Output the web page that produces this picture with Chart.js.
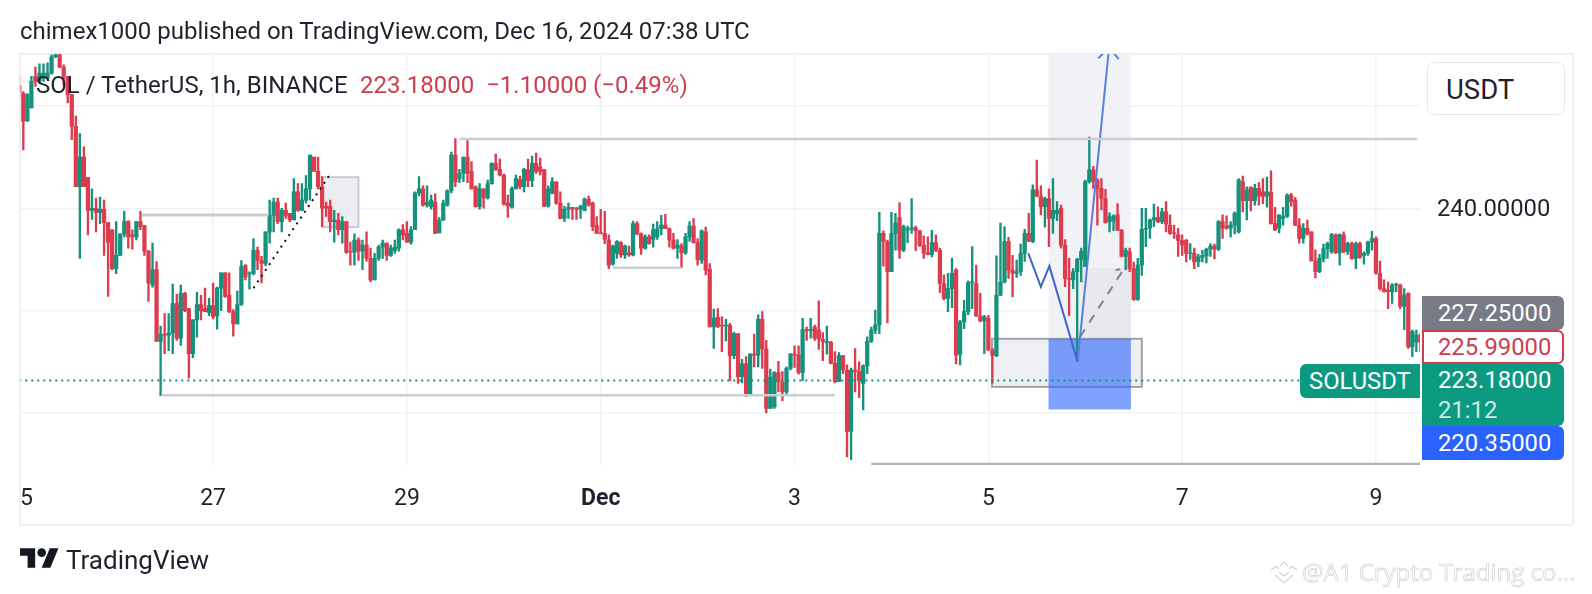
<!DOCTYPE html>
<html>
<head>
<meta charset="utf-8">
<title>SOLUSDT</title>
<script src="https://cdn.jsdelivr.net/npm/chart.js@4"></script>
<style>
  html, body { margin: 0; padding: 0; background: #fff; }
  body { width: 1592px; height: 594px; position: relative; overflow: hidden; font-family: Roboto, sans-serif; color: #1e222d; }
  canvas { position: absolute; left: 0; top: 0; }
  .t { position: absolute; white-space: pre; line-height: 1; }
  .frame { position: absolute; left: 19px; top: 53px; width: 1551px; height: 469px; border: 2px solid #eff0f3; }
  .tag { position: absolute; left: 1422px; width: 142px; box-sizing: border-box; padding-left: 16px; font-size: 23.8px; color: #fff; border-radius: 0 6px 6px 0; }
</style>
</head>
<body>
<div class="frame"></div>
<canvas id="solChart" width="1592" height="594"></canvas>

<div class="t" style="left:20px;top:19px;font-size:24px">chimex1000 published on TradingView.com, Dec 16, 2024 07:38 UTC</div>
<div class="t" style="left:36px;top:73px;font-size:24px">SOL / TetherUS, 1h, BINANCE</div>
<div class="t" style="left:360px;top:73px;font-size:24px;color:#cc3e4e">223.18000  −1.10000 (−0.49%)</div>

<div style="position:absolute;left:1427px;top:62px;width:136px;height:51px;border:1px solid #e6e8ee;border-radius:7px;background:#fff"></div>
<div class="t" style="left:1446px;top:76px;font-size:27.5px">USDT</div>

<div class="tag" style="top:296px;height:34px;line-height:34px;background:#787b86">227.25000</div>
<div class="tag" style="top:330px;height:34px;line-height:30px;background:#fff;border:2px solid #cc3e4e;padding-left:14px;color:#cc3e4e">225.99000</div>
<div class="tag" style="top:364px;height:62px;line-height:30px;padding-top:1px;background:#0b9a80">223.18000<br><span style="opacity:.8">21:12</span></div>
<div class="tag" style="top:426px;height:34px;line-height:34px;background:#2962ff">220.35000</div>
<div class="t" style="left:1300px;top:364px;width:120px;height:34px;line-height:34px;box-sizing:border-box;padding-left:9px;font-size:23.8px;color:#fff;background:#0b9a80;border-radius:6px 0 0 6px">SOLUSDT</div>

<svg style="position:absolute;left:20px;top:548px" width="39" height="20" viewBox="0 4 36 18"><path fill="#131722" d="M14 22H7V11H0V4h14v18zM28 22h-8l7.5-18h8L28 22z"/><circle fill="#131722" cx="20" cy="8" r="4"/></svg>
<div class="t" style="left:66px;top:547px;font-size:26px">TradingView</div>

<svg style="position:absolute;left:1270px;top:561px" width="29" height="24" viewBox="0 0 29 24" fill="none" stroke="#d4d4d4" stroke-width="1.2"><path d="M1 9l5-4 3 3M10 5l4-4 4 4M19 8l3-3 5 4M9 11l5 4 5-4M5 14l9 8 9-8"/></svg>
<div class="t" style="left:1302px;top:560px;font-size:24px;font-family:'Open Sans',sans-serif;color:#fff;-webkit-text-stroke:0.6px #c9c9c9">@A1 Crypto Trading co...</div>

<script>
// hourly candles, index 0 = 25 Nov 00:00
const opens = [
  252,251.2,248.5,249.8,252.9,252.4,252.7,252.7,253.2,254.8,
  255,253.8,252.9,251.1,248,242.1,245,243,239.8,240,
  239.6,239.9,238.6,237.9,234.1,235.4,237.5,238.7,237.4,237.2,
  238.7,238.3,235.8,232.5,234,227,227.7,227.6,227.8,230.7,
  227.3,231.7,230.2,225.8,229.1,230.6,230.2,229.8,230.5,229.5,
  232.2,233.7,231.5,229.9,228.7,230.6,234.4,233.6,233.6,235.9,
  234.9,234.6,237.7,239.3,240.6,238.7,239.8,239.5,238.85,241.6,
  239.8,240.8,241.9,245,243.6,242.1,240.2,240.2,238.7,238.85,
  237.9,238.7,235.8,235.7,236.9,235.8,236.4,235.1,233,235.1,
  236.2,236.6,235.4,235.85,236.1,237.9,237.55,236.7,237.9,241.5,
  241.9,240.3,240.15,240.6,237.6,238.85,240.3,241.7,245.2,242.9,
  243.4,245,243.6,242.1,240.15,241.9,241,242.4,244.4,243.8,
  243.25,240.5,240.1,241.9,242.8,242.1,243.75,242.7,244.4,244.05,
  243.75,240.2,241.45,242.55,240.5,239,239.9,240.1,240,239.9,
  239.8,240.9,240.5,238.3,237.6,237.55,236.9,234.55,235.6,236.65,
  235.45,235.65,235.45,238.5,237.5,236.1,237.2,236.95,237.2,238,
  238.35,238,236.9,236.1,236.3,235.65,237.2,238.25,236.65,234.95,
  237.7,234.05,228.4,229.35,228.6,228.5,228.6,225.6,227.75,223.55,
  224.8,221.9,225.75,225.65,229.15,226.25,220.45,220.6,223.95,223,
  222.05,224.35,225.75,225.65,223.95,228.15,228.05,228.4,228.1,227.2,
  226.9,226.9,224.85,223.05,225.6,224.2,218.2,224.2,224.05,222.9,
  224.6,227,228.1,228.6,237.55,236.75,233.8,237.55,239.1,235.9,
  237.85,237.95,238.1,237.8,236.4,235.65,235.5,236.65,235.9,232.65,
  231.2,232.15,233.95,225.75,228.9,229.9,232.75,232.65,229.5,229,
  229.25,226.15,225.6,231.5,232.8,236.75,233.95,233.65,233.8,235.6,
  237.55,236.75,241.8,241.2,240.15,240.95,239,239.5,240,236.4,
  233.15,233,233.8,235,234.3,242.6,243.75,242.75,241.95,240.95,
  238.7,238.75,239.35,237.85,235.3,235.75,234.1,231.1,234.45,237.95,
  238.05,238.85,239.1,238.7,239.65,238.35,237.6,237.4,236.85,236.9,
  235.6,235.6,234.75,235.2,235.35,236,236.3,236,238.7,238.25,
  238.05,238.35,237.7,242.6,240.75,242.05,240.75,241.95,241.6,241.2,
  241.55,238.5,238.05,239,239.2,241.3,240.8,238.35,237.05,238.05,
  237.7,234.85,233.8,235.1,236.05,235.75,237.4,235.65,237.4,235.75,
  236.55,235.1,236.55,235.4,235.6,236.7,237.05,233.65,232.15,232,
  231.85,232.5,232.5,230.4,231.7,226.45,226.95,227.6
];
const closes = [
  251.3,248.5,251.1,252.4,252.4,253.2,253.2,253.2,254.8,255,
  253.8,252.9,251.1,248,242.1,245,242.1,239.8,240,239.6,
  239.9,238.6,236.7,234.1,235.4,237.5,238.7,237.2,237.2,238.7,
  238.2,235.8,232.7,234,227,227.7,227.6,227.8,230.7,227.3,
  231.7,230,225.8,229.1,230.6,230,229.9,230.5,229.4,232.2,
  233.7,231.4,229.9,228.7,230.6,234.3,233.3,233.7,235.9,234.9,
  234.6,237.7,239.3,240.6,238.7,239.8,239.3,238.85,241.6,239.8,
  240.8,241.9,245.2,243.6,242.1,240,240,238.7,238.85,237.9,
  238.7,235.7,235.7,236.9,235.8,236.4,235.1,233,235.1,236.2,
  236.6,235.4,236.1,236.2,237.9,237.4,236.7,237.9,241.5,241.9,
  240.3,240.6,240.8,237.55,238.85,240.5,241.7,245.2,242.6,243.4,
  245,243.4,241.9,240.15,241.9,241,242.4,244.4,243.8,243.25,
  240.4,240.2,241.9,242.9,242.1,243.8,242.7,244.4,243.6,243.6,
  240.2,241.9,242.6,240.5,239,239.9,240.1,239.9,239.9,240.2,
  240.9,240.3,238.2,237.55,237.55,236.95,234.45,236.3,236.75,235.45,
  236.3,235.45,238.5,237.5,236.1,237.2,236.55,237.9,238,238.35,
  238,236.9,236.1,236.4,235.65,237.2,238.25,236.65,234.95,237.8,
  233.95,228.4,229.25,228.4,228.5,228.6,225.6,227.75,223.55,224.8,
  221.85,225.75,225.65,229.15,226.25,220.45,223.5,223.95,223.05,222.05,
  224.35,225.75,225.65,223.95,228.15,228.05,228.15,227.3,227.2,227,
  227,224.85,223.05,225.6,224.2,218.2,224.2,224.05,223.15,224.6,
  227,228.1,228.6,237.55,236.75,233.8,237.55,238.55,235.9,238.2,
  238,238.1,237.8,236.4,235.6,235.5,236.65,235.9,232.65,231.2,
  232.15,233.65,225.65,228.9,229.9,232.75,232.85,229.5,229,229.4,
  226.15,225.65,231.5,232.8,236.75,233.95,233.65,233.8,235.6,237.55,
  236.75,241.8,241.2,240.15,240.95,239,239.8,239.8,236.4,233.15,
  233.05,233.8,235,235.8,242.6,243.75,242.6,241.95,240.95,238.6,
  239.2,239.25,237.85,235.3,235.9,234.1,231.1,234.45,237.95,238.05,
  238.85,239.1,238.7,239.65,238.45,237.55,237.55,236.85,236.4,235.6,
  235.65,234.75,235.25,235.4,236,236.3,236,238.7,238.05,238.05,
  238.35,239.5,242.75,240.75,241.8,240.75,241.95,241.2,241.15,241.6,
  238.5,237.85,239.35,239.2,241.3,240.65,238.35,237.05,238.05,237.5,
  234.85,233.8,235.1,236.05,236.55,237.4,235.65,237.4,235.75,236.55,
  235.1,236.55,235.2,235.6,236.7,237.05,233.65,232.15,231.85,231.85,
  232.5,232.6,230.4,231.5,226.45,227.95,227.6,226.9
];
const highs = [
  252.9,251.4,251.2,252.9,253.8,254.1,254.1,254.2,255,255.1,
  255.1,254,252.9,251.1,249,247.3,246,243,241.9,241,
  241.1,240.8,238.6,237.9,238.7,237.5,239.7,238.8,237.9,238.7,
  239.7,238.3,235.9,236.6,234.8,228.5,229.7,229.7,232.6,231.6,
  232.5,231.8,230.2,229.1,231.8,231.5,232.2,231.2,232.7,232.3,
  233.7,233.7,233.7,230.1,231.9,234.9,234.5,233.8,237.05,236.2,
  235.3,237.7,240.8,241,241,240,240.5,239.5,242.9,242.4,
  242.4,243.2,245.2,245,245,243.1,240.6,240.8,239.8,239.5,
  239.2,238.7,236.7,237.5,237.1,236.9,237.7,236.1,235.6,236.4,
  236.9,236.6,236.4,236.9,238,238.4,238.7,238.2,241.6,243.1,
  242.2,242.2,241.3,241.4,239.1,240.8,241.8,245.5,246.8,243.8,
  245,246.6,244.55,242.2,242.4,241.9,242.75,244.45,245.3,244.8,
  243.35,241.3,242.1,243.25,243.15,243.9,244.8,245.1,245.4,244.9,
  243.8,242.2,243,242.6,241.6,240.2,240.5,240.1,240.1,240.3,
  241,241.2,240.6,239.2,239.9,239.7,237.4,236.4,236.85,236.75,
  236.4,236.3,238.75,238.7,237.6,237.4,237.4,238.45,238.7,239.3,
  239.4,238.1,237.55,236.95,236.55,237.55,238.7,239,237.05,237.9,
  238.15,234.6,230.15,230.2,229.4,229.15,228.75,227.9,227.75,225.25,
  225.5,225.8,227.7,229.6,229.9,227.1,224.3,224.05,225.05,224.05,
  224.5,225.8,226.55,226.55,229.25,228.4,229.25,228.6,230.95,227.85,
  228.5,227,226,225.9,225.6,224.7,224.4,226.3,225,224.7,
  227.45,228.4,230.05,239.6,237.8,236.9,239.6,239.5,240.55,238.35,
  238.25,240.95,238.25,237.85,237.3,237.2,237.85,237.4,236.1,233.5,
  233.65,235.1,234.1,229.05,231,232.9,236.25,234.45,231.7,229.55,
  229.55,226.3,235.35,238.55,238.2,237.15,235.4,234.95,236.5,237.95,
  239.5,242.3,244.7,242.2,241.1,241.9,242.9,240.65,240.3,236.95,
  235.1,234.1,235.1,236.1,242.75,246.95,244.1,242.9,242.9,241.85,
  239.55,239.35,240.45,237.95,236.1,236.1,234.75,235.1,240,240,
  238.95,240.4,240.15,240,240.65,239.35,238.35,238.05,237.4,236.95,
  236.55,236.1,235.5,235.9,236.1,236.55,236.5,238.8,239.35,239.25,
  238.7,239.65,242.9,243.15,242.1,242.1,242.35,242.5,242.9,243.05,
  243.65,240.1,239.35,240.1,241.4,241.45,241.05,239,238.5,238.85,
  237.7,235.95,235.5,236.5,236.7,237.55,237.5,237.5,237.7,236.7,
  236.7,236.7,236.7,235.75,236.8,237.75,237.2,234.85,233,232.8,
  232.65,232.7,232.6,232.15,231.75,228.1,228.1,227.75
];
const lows = [
  250.8,245.7,248.5,249.8,251.9,252.2,252.4,252.7,253.1,254.7,
  253.7,252,250.3,246.7,242.1,235.1,242.1,237.4,238.9,237.7,
  238.5,235.4,231.4,234,233.6,235.4,237.2,236.1,236,236.9,
  237.9,235.4,230.9,232.3,227,221.7,225.8,226.1,225.8,227.1,
  226.6,229.9,223.4,225.4,227.4,229.1,229.9,229.5,229.2,228.2,
  230,231.3,229.8,227.5,228.7,230.5,233,232.1,233.5,234,
  232.7,234.4,236.6,237.7,238.5,237.7,239,238.7,238.85,239.7,
  239.8,240.5,240.8,243.6,241.9,238.2,239.2,237.7,236.7,237.4,
  236.6,235.6,234.45,234.45,234.9,234,234.8,232.8,233,234.9,
  235.1,234.9,235.3,235.6,235.8,236.9,236.7,236.5,237.9,241.2,
  240.2,240.1,239.9,237.55,237.6,238.8,240.2,241.5,242.1,242.5,
  242.6,242.5,241.9,240.1,239.9,240,240.9,242.35,243.7,243.15,
  240.3,239.1,240,241.9,241.9,241.6,242.1,242.1,243.4,243.25,
  240.15,240.1,241.4,240.4,238.95,238.7,239,238.9,238.9,239,
  239.75,240.2,237.8,237.55,237.5,236.55,234.1,234.45,235.1,235.2,
  235.1,235.3,235.35,237.4,235.5,236,236.5,236.2,236.95,237.4,
  238,236.2,236,235.1,234.2,235.5,236.75,236.6,234.45,234.6,
  233.5,228.4,226.3,228.35,226,227.05,223.15,225.3,222.9,222.95,
  221.6,221.75,224.5,224.5,224.35,220,220.45,220.45,222.05,221.2,
  221.75,224.2,224.45,223.8,223.15,227.1,227.3,227.1,226.2,225.1,
  225.75,224.8,222.95,223.05,223.85,215.7,215.45,222.05,221.5,220.3,
  223.85,226.9,227.75,227.75,234.35,228.8,233.8,235.9,235.1,235.75,
  236.65,237.55,235.85,236.25,235.1,235.45,235.25,235.75,231.75,231.05,
  229.9,230.3,224.8,224.7,228.25,229.6,230.2,229.4,228.9,225.8,
  226.1,222.9,225.5,231.45,232.7,233.15,231.35,233.25,233.45,234.8,
  236.75,236.65,241.1,239.35,238.15,236.25,237.55,238.8,236.1,232.35,
  229.5,232.15,225.5,232.8,234.3,242.45,241.95,238.35,239.85,238.55,
  237.7,237.8,237.8,235.25,234,233.8,231,231,233.45,236.25,
  237.05,238.2,238.6,238.5,237.7,237.45,237.05,235.3,235.4,234.75,
  235,234.1,234.3,234.75,234.65,235.3,235.05,235.85,237.05,237.95,
  237.2,237.5,237.6,239.65,238.85,239.75,240.3,240.3,240.45,240.1,
  238.45,237.8,237.6,238.35,239.1,240.2,238.3,236.6,236.6,237.4,
  234.85,233.2,233.7,234.75,235.1,235.6,235.6,234.45,235.65,235.5,
  235,234.1,235.1,234.55,235.4,235.9,233.55,232,231.8,230.2,
  230.7,231.85,230.2,228.15,226.3,225.5,226,226
];

// time axis: hour index and text
const dayHours = [1.8, 48, 96, 144, 192, 240, 288, 336];
const dayLabels = ["5", "27", "29", "Dec", "3", "5", "7", "9"];
const priceTicks = [220, 230, 240, 250];
const lastPrice = 223.18;

// drawings as [hour, price]
const levelLeft = [[30.4, 239.33], [61.7, 239.33]];
const levelTop = [[109, 246.77], [346.2, 246.77]];
const levelLow = [[35.2, 221.74], [202, 221.74]];
const levelMid = [[147, 234.18], [164, 234.18]];
const levelBottom = [[211, 215], [347, 215]];
const dottedTrend = [[58, 232.2], [77, 243.33]];
const zigzag = [[249.9, 235.59], [253, 232.33], [255.1, 234.35], [262.1, 225]];
const bigArrow = [[262.1, 225], [269.9, 255.7]];
const arrowHead = [[267.2, 254.65], [269.9, 255.7], [272.3, 254.56]];
const dashedPath = [[262.7, 227.44], [273.6, 234.1], [271.5, 233.96]];
const priceLine = [[0, lastPrice], [347, lastPrice]];

// boxes as [hour from, hour to, price top, price bottom]
const noteBox = [75, 84, 243.04, 238.16];
const rangeBox = [240.9, 278, 227.25, 222.55];
const profitBox = [254.9, 275.3, 255.1, 227.25];
const stopBox = [254.9, 275.3, 227.25, 220.35];
const innerBox = [263, 275.3, 234.17, 227.25];

const UP = "#15917c";
const DOWN = "#dd3c4e";
const candleColors = closes.map((c, i) => (c >= opens[i] ? UP : DOWN));
const toPoints = list => list.map(p => ({ x: p[0], y: p[1] }));

function lineSet(list, color, width, dash) {
  return {
    type: "line",
    data: toPoints(list),
    borderColor: color,
    borderWidth: width,
    borderDash: dash || [],
    pointRadius: 0,
    tension: 0,
    order: 0
  };
}

// shaded boxes sit under the candles
const boxPlugin = {
  id: "boxes",
  beforeDatasetsDraw(chart) {
    const { ctx, scales: { x, y }, chartArea } = chart;
    function box(b, fill, stroke, width) {
      const left = x.getPixelForValue(b[0]);
      const right = x.getPixelForValue(b[1]);
      const top = y.getPixelForValue(b[2]);
      const bottom = y.getPixelForValue(b[3]);
      ctx.fillStyle = fill;
      ctx.fillRect(left, top, right - left, bottom - top);
      if (stroke) {
        ctx.strokeStyle = stroke;
        ctx.lineWidth = width;
        ctx.strokeRect(left, top, right - left, bottom - top);
      }
    }
    ctx.save();
    ctx.beginPath();
    ctx.rect(chartArea.left, chartArea.top, chartArea.width, chartArea.height);
    ctx.clip();
    box(noteBox, "#ecedf0", "#c9ccd3", 2);
    box(profitBox, "#f0f2f6");
    box(innerBox, "#e7e9ee");
    box(rangeBox, "rgba(205,209,220,0.35)", "#a0a2a9", 2);
    box(stopBox, "rgba(41,98,255,0.6)");
    ctx.restore();
  }
};

new Chart(document.getElementById("solChart"), {
  data: {
    datasets: [
      lineSet(priceLine, "#15917c", 2, [2, 4]),
      lineSet(levelLeft, "#cbcdd3", 3),
      lineSet(levelTop, "#cbcdd3", 2.5),
      lineSet(levelLow, "#cbcdd3", 2.5),
      lineSet(levelMid, "#cbcdd3", 2.5),
      lineSet(levelBottom, "#b0b2b8", 3),
      lineSet(dottedTrend, "#111", 2, [2, 5]),
      lineSet(zigzag, "#3f63c9", 2),
      lineSet(bigArrow, "#5b7fdc", 2),
      lineSet(arrowHead, "#5b7fdc", 2),
      lineSet(dashedPath, "#7e8087", 2, [9, 8]),
      {
        type: "bar",
        data: closes.map((c, i) => ({ x: i, y: [opens[i], c] })),
        backgroundColor: candleColors,
        barThickness: 3.6,
        grouped: false,
        order: 1
      },
      {
        type: "bar",
        data: highs.map((h, i) => ({ x: i, y: [lows[i], h] })),
        backgroundColor: candleColors,
        barThickness: 1.7,
        grouped: false,
        order: 2
      }
    ]
  },
  options: {
    responsive: false,
    animation: false,
    devicePixelRatio: 1,
    layout: { padding: { left: 20, top: 54, right: 20.5, bottom: 71 } },
    plugins: { legend: { display: false }, tooltip: { enabled: false } },
    scales: {
      x: {
        type: "linear",
        offset: false,
        min: 0.33,
        max: 346.9,
        afterBuildTicks: scale => { scale.ticks = dayHours.map(v => ({ value: v })); },
        afterFit: scale => { scale.height = 58; },
        border: { display: false },
        grid: {
          offset: false,
          drawTicks: false,
          lineWidth: 1.5,
          color: ctx => (ctx.tick && ctx.tick.value === dayHours[0] ? "transparent" : "#f0f2f5")
        },
        ticks: {
          autoSkip: false,
          maxRotation: 0,
          padding: 20,
          color: "#1e222d",
          font: ctx => ({
            family: "Roboto",
            size: 23,
            weight: ctx.tick && ctx.tick.value === 144 ? "bold" : "normal"
          }),
          callback: value => dayLabels[dayHours.indexOf(value)]
        }
      },
      y: {
        position: "right",
        min: 214.92,
        max: 255.07,
        afterBuildTicks: scale => { scale.ticks = priceTicks.map(v => ({ value: v })); },
        afterFit: scale => { scale.width = 151.5; },
        border: { display: false },
        grid: { drawTicks: false, lineWidth: 1.5, color: "#f0f2f5" },
        ticks: {
          padding: 17,
          color: "#1e222d",
          // the empty first line nudges the label down onto its grid line
          font: { family: "Roboto", size: 23.8, lineHeight: "4px" },
          callback: value => (value === 240 ? ["", "240.00000"] : "")
        }
      }
    }
  },
  plugins: [boxPlugin]
});
</script>
</body>
</html>
